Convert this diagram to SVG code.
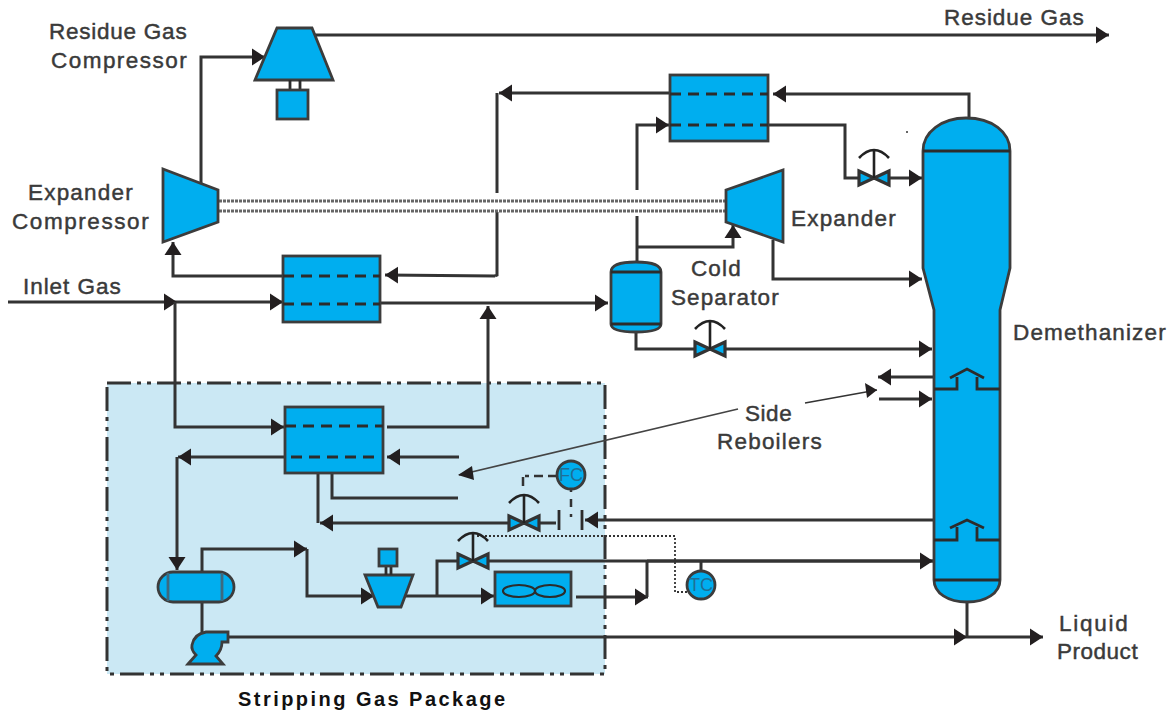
<svg xmlns="http://www.w3.org/2000/svg" xmlns:xlink="http://www.w3.org/1999/xlink" width="1171" height="713" viewBox="0 0 1171 713">
<style>
.c{fill:none;stroke:#333;stroke-width:3}
.a{marker-end:url(#arrow)}
.e{fill:#00aeef;stroke:#3c3c3c;stroke-width:2.8}
.d{fill:none;stroke:#2c2c2c;stroke-width:2.8;stroke-dasharray:11 7}
.k{fill:none;stroke:#2c2c2c;stroke-width:2.8}
.t{font-family:"Liberation Sans",Arial,sans-serif;font-size:22.5px;fill:#3a3a3a;stroke:#3a3a3a;stroke-width:.45;letter-spacing:1.35px}
.i{font-family:"Liberation Sans",Arial,sans-serif;font-size:18px;fill:#1f6f95;text-anchor:middle}
</style>
<defs>
<marker id="arrow" markerUnits="userSpaceOnUse" markerWidth="14" markerHeight="18" viewBox="0 0 14 18" refX="13" refY="9" orient="auto"><path d="M0,0.500 L13,9 L0,17.500 Z" fill="#231f20"/></marker>
<g id="valve">
<path d="M-15,-7 L0,0 L-15,7 Z M15,-7 L0,0 L15,7 Z" fill="#00aeef" stroke="#333" stroke-width="3.2"/>
<path d="M0,0 V-29 M-15,-20 Q0,-36 15,-20" fill="none" stroke="#222" stroke-width="2.6"/>
</g>
</defs>
<rect width="1171" height="713" fill="#fff"/>
<g id="package"><rect x="107" y="383" width="498" height="291" fill="#cbe8f4" stroke="#333" stroke-width="3" stroke-dasharray="24 6 4 6 4 6"/></g>
<g id="connectors">
<polyline class="c a" points="314,35 1109,35"/>
<polyline class="c a" points="201,184 201,57 265,57"/>
<polyline class="c a" points="969,118 969,94 773,94"/>
<polyline class="c a" points="670,93 499,93"/>
<polyline class="c" points="497,93 497,193"/>
<polyline class="c" points="497,212 497,275 495,276"/>
<polyline class="c a" points="495,276 385,275"/>
<polyline class="c a" points="283,276 173,276 173,242"/>
<polyline class="c a" points="8,302 177,302"/>
<polyline class="c a" points="177,302 283,302"/>
<polyline class="c a" points="380,303 608,303"/>
<polyline class="c a" points="175,302 175,427 284,427"/>
<polyline class="c a" points="387,427 488,427 488,306"/>
<polyline class="c a" points="459,457 387,457"/>
<polyline class="c a" points="285,457 178,457"/>
<polyline class="c a" points="177,457 177,570"/>
<polyline class="c" points="318,466 318,523"/>
<polyline class="c a" points="556,523 320,523"/>
<polyline class="c" points="332,466 332,498 458,498"/>
<polyline class="c a" points="933,520 585,520"/>
<polyline class="c a" points="202,572 202,549 307,549"/>
<polyline class="c a" points="307,549 307,596 374,596"/>
<polyline class="c a" points="405,596 494,596"/>
<polyline class="c" points="437,596 437,561 933,561"/>
<polyline class="c a" points="647,561 933,561"/>
<polyline class="c a" points="576,597 648,597"/>
<polyline class="c" points="647,561 647,597"/>
<polyline class="c" points="701,561 701,572"/>
<polyline points="687,592 675,592 675,536 475,536" fill="none" stroke="#333" stroke-width="1.800" stroke-dasharray="2 2"/>
<path d="M557,476 H525 M523,477 V490" fill="none" stroke="#333" stroke-width="2.500" stroke-dasharray="9 5"/>
<path d="M571,489 V520" fill="none" stroke="#333" stroke-width="2.500" stroke-dasharray="3 7 8 7"/>
<polyline class="c" points="202,602 202,632"/>
<polyline class="c a" points="229,637 967,637"/>
<polyline class="c" points="967,602 967,637"/>
<polyline class="c a" points="967,637 1043,637"/>
<polyline class="c" points="637,262 637,216"/>
<polyline class="c a" points="637,190 637,125 669,125"/>
<polyline class="c a" points="637,247 733,247 733,225"/>
<polyline class="c a" points="773,240 773,279 922,279"/>
<polyline class="c a" points="768,125 845,125 845,178 922,178"/>
<polyline class="c a" points="636,332 636,349 932,349"/>
<polyline class="c a" points="934,377 878,377"/>
<polyline class="c a" points="879,399 932,399"/>
<line x1="805" y1="403" x2="877" y2="390" stroke="#333" stroke-width="1.600"/>
<path d="M865,383 L877,390 L867,398 Z" fill="#231f20"/>
<line x1="738" y1="409" x2="459" y2="475" stroke="#444" stroke-width="1.600"/>
<path d="M458,475 L472,466 L474,480 Z" fill="#231f20"/>
<path d="M219,201 H726 M219,211 H726" fill="none" stroke="#666" stroke-width="3" stroke-dasharray="3 1"/>
<path d="M559,510 V530 M582,510 V530" fill="none" stroke="#2c2c2c" stroke-width="2.800"/>
</g>
<g id="residue-compressor">
<path class="e" d="M277,28 L312,28 L333,80 L255,80 Z"/>
<path d="M290,80 V90 M300,80 V90" class="k"/>
<rect class="e" x="277" y="90" width="31" height="29"/>
</g>
<g id="expander-compressor"><path class="e" d="M163,169 L218,190 L218,222 L163,242 Z"/></g>
<g id="expander"><path class="e" d="M726,190 L783,170 L783,242 L726,222 Z"/></g>
<g id="hx1"><rect class="e" x="670" y="75" width="98" height="66"/><path class="d" d="M670,94 H768 M670,125 H768"/></g>
<g id="hx2"><rect class="e" x="283" y="256" width="97" height="66"/><path class="d" d="M283,276 H380 M283,304 H380"/></g>
<g id="hx3"><rect class="e" x="285" y="407" width="98" height="66"/><path class="d" d="M285,426 H383 M291,457 H379"/></g>
<g id="cold-separator">
<path class="e" d="M611,272 Q611,262 636,262 Q661,262 661,272 V324 Q661,332 636,332 Q611,332 611,324 Z"/>
<path class="k" d="M611,272 H661 M611,324 H661"/>
</g>
<g id="demethanizer">
<path class="e" d="M923,151 C923,132 942,118 966,118 C992,118 1010,132 1010,151 L1010,268 L1000,310 L1000,580 C1000,593 986,602 967,602 C948,602 934,593 934,580 L934,310 L923,268 Z"/>
<path class="k" d="M923,151 H1010 M934,580 H1000"/>
<path class="k" d="M934,389 H957 V377 M950,378 L967,369 L984,378 M977,377 V389 H1000"/>
<path class="k" d="M934,540 H957 V527 M950,528 L967,520 L984,528 M977,527 V540 H1000"/>
</g>
<g id="reflux-drum">
<rect class="e" x="158" y="572" width="76" height="30" rx="15"/>
<path d="M168,573 V601 M222,573 V601" stroke="#3c6a80" stroke-width="2.800" fill="none"/>
</g>
<g id="stripping-compressor">
<path class="e" d="M365,575 L413,575 L401,607 L378,607 Z"/>
<path class="k" d="M386,566 V575 M391,566 V575"/>
<rect class="e" x="379" y="549" width="18" height="17"/>
</g>
<g id="cooler">
<rect class="e" x="495" y="572" width="76" height="34"/>
<ellipse cx="519" cy="591" rx="16" ry="6" fill="none" stroke="#2c2c2c" stroke-width="2.200"/>
<ellipse cx="550" cy="591" rx="15" ry="6" fill="none" stroke="#2c2c2c" stroke-width="2.200"/>
</g>
<g id="pump"><path class="e" d="M188,664 L196,655 Q191,650 192,645 Q194,634 206,632 L228,632 L228,642 L222,642 Q222,650 216,656 L223,664 Z"/></g>
<g id="valve-1"><use href="#valve" xlink:href="#valve" x="874" y="178"/></g>
<g id="valve-2"><use href="#valve" xlink:href="#valve" x="710" y="349"/></g>
<g id="valve-3"><use href="#valve" xlink:href="#valve" x="524" y="523"/></g>
<g id="valve-4"><use href="#valve" xlink:href="#valve" x="473" y="561"/></g>
<g id="fc"><circle class="e" cx="571" cy="475" r="14"/><text class="i" x="571" y="481">FC</text></g>
<g id="tc"><circle class="e" cx="701" cy="585" r="14"/><text class="i" x="701" y="591">TC</text></g>
<circle cx="907" cy="132" r="1" fill="#333"/>
<g id="labels">
<text class="t" x="944" y="25" textLength="141">Residue Gas</text>
<text class="t" x="49" y="39" textLength="139">Residue Gas</text>
<text class="t" x="51" y="68" textLength="137">Compressor</text>
<text class="t" x="28" y="200" textLength="106">Expander</text>
<text class="t" x="12" y="229" textLength="138">Compressor</text>
<text class="t" x="23" y="294" textLength="99">Inlet Gas</text>
<text class="t" x="791" y="226" textLength="106">Expander</text>
<text class="t" x="691" y="276" textLength="51">Cold</text>
<text class="t" x="671" y="305" textLength="109">Separator</text>
<text class="t" x="1013" y="340" textLength="154">Demethanizer</text>
<text class="t" x="745" y="421" textLength="48">Side</text>
<text class="t" x="717" y="449" textLength="106">Reboilers</text>
<text class="t" x="1059" y="631" textLength="70">Liquid</text>
<text class="t" x="1057" y="659" textLength="82">Product</text>
<text x="238" y="706" font-family="'Liberation Sans',Arial,sans-serif" font-size="20" font-weight="700" letter-spacing="2" textLength="269" fill="#111">Stripping Gas Package</text>
</g>
</svg>
